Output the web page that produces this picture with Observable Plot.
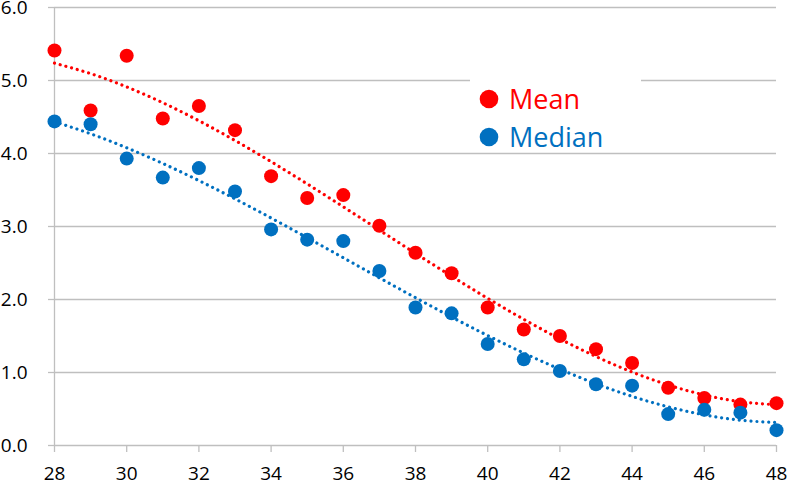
<!DOCTYPE html>
<html>
<head>
<meta charset="utf-8">
<script src="https://cdn.jsdelivr.net/npm/d3@7"></script>
<script src="https://cdn.jsdelivr.net/npm/@observablehq/plot@0.6"></script>
<style>
  html, body { margin: 0; padding: 0; background: #fff; }
  #chart svg { display: block; }
</style>
</head>
<body>
<div id="chart"></div>
<script>
// Data
const ages = [28, 29, 30, 31, 32, 33, 34, 35, 36, 37, 38, 39, 40, 41, 42, 43, 44, 45, 46, 47, 48];
const meanValues = [5.41, 4.59, 5.34, 4.48, 4.65, 4.32, 3.69, 3.39, 3.43, 3.01, 2.64, 2.36, 1.89, 1.59, 1.50, 1.32, 1.13, 0.79, 0.65, 0.56, 0.58];
const medianValues = [4.44, 4.40, 3.93, 3.67, 3.80, 3.48, 2.96, 2.82, 2.80, 2.39, 1.89, 1.81, 1.39, 1.18, 1.02, 0.84, 0.82, 0.43, 0.49, 0.45, 0.21];
const seriesNames = ["Mean", "Median"];
const seriesColors = ["#FF0000", "#0070C0"];
const yTicks = [0, 1, 2, 3, 4, 5, 6];
const xTicks = [28, 30, 32, 34, 36, 38, 40, 42, 44, 46, 48];

// Cubic polynomial least-squares trendline (as in the spreadsheet chart)
function cubicFit(xs, ys) {
  const c = d3.mean(xs);
  const n = 4;
  const A = Array.from({length: n}, () => new Array(n + 1).fill(0));
  xs.forEach((x0, k) => {
    const x = x0 - c;
    const p = [1, x, x * x, x * x * x];
    for (let i = 0; i < n; i++) {
      for (let j = 0; j < n; j++) A[i][j] += p[i] * p[j];
      A[i][n] += p[i] * ys[k];
    }
  });
  for (let i = 0; i < n; i++) {
    let piv = i;
    for (let r = i + 1; r < n; r++) if (Math.abs(A[r][i]) > Math.abs(A[piv][i])) piv = r;
    [A[i], A[piv]] = [A[piv], A[i]];
    for (let r = 0; r < n; r++) {
      if (r === i) continue;
      const f = A[r][i] / A[i][i];
      for (let col = i; col <= n; col++) A[r][col] -= f * A[i][col];
    }
  }
  const b = A.map((row, i) => row[n] / row[i]);
  return x0 => { const x = x0 - c; return b[0] + b[1] * x + b[2] * x * x + b[3] * x * x * x; };
}

const points = [];
const trend = [];
[meanValues, medianValues].forEach((vals, s) => {
  ages.forEach((a, i) => points.push({age: a, value: vals[i], series: seriesNames[s]}));
  const f = cubicFit(ages, vals);
  ages.forEach(a => trend.push({age: a, value: f(a), series: seriesNames[s]}));
});

const gridColor = "#BFBFBF";
const font = "'Open Sans', 'Liberation Sans', sans-serif";

const chart = Plot.plot({
  width: 787,
  height: 482,
  marginLeft: 54,
  marginRight: 11,
  marginTop: 7,
  marginBottom: 37,
  style: {fontFamily: font, fontSize: "19px", color: "#000", background: "#fff"},
  x: {domain: [28, 48]},
  y: {domain: [0, 6]},
  color: {domain: seriesNames, range: seriesColors},
  marks: [
    Plot.gridY(yTicks, {stroke: gridColor, strokeOpacity: 1, strokeWidth: 1.3}),
    Plot.axisY(yTicks, {tickSize: 6, tickPadding: 21, fontSize: 19, stroke: gridColor, strokeWidth: 1.3, tickFormat: d3.format(".1f"), fill: "#000", label: null}),
    Plot.axisX(xTicks, {tickSize: 7, tickPadding: 14, fontSize: 19, stroke: gridColor, strokeWidth: 1.3, fill: "#000", label: null, tickFormat: d => String(d)}),
    Plot.ruleX([28], {stroke: gridColor, strokeWidth: 1.3}),
    Plot.line(trend, {x: "age", y: "value", z: "series", stroke: "series", curve: "natural", strokeWidth: 3.2, strokeLinecap: "round", strokeDasharray: "0.01 5.9"}),
    Plot.dot(points, {x: "age", y: "value", fill: "series", r: 7})
  ]
});

// Legend (inside the plot, white box hiding gridlines)
const svg = d3.select(chart);
const lg = svg.append("g").attr("font-family", font).attr("text-anchor", "start");
lg.append("rect").attr("x", 470).attr("y", 68).attr("width", 171).attr("height", 80).attr("fill", "#fff");
seriesNames.forEach((name, i) => {
  const cy = 99 + i * 38;
  lg.append("circle").attr("cx", 489).attr("cy", cy).attr("r", 9.3).attr("fill", seriesColors[i]);
  lg.append("text").attr("x", 509).attr("y", cy).attr("dy", "0.36em")
    .attr("font-size", 27).attr("fill", seriesColors[i]).text(name);
});

document.getElementById("chart").appendChild(chart);
</script>
</body>
</html>
